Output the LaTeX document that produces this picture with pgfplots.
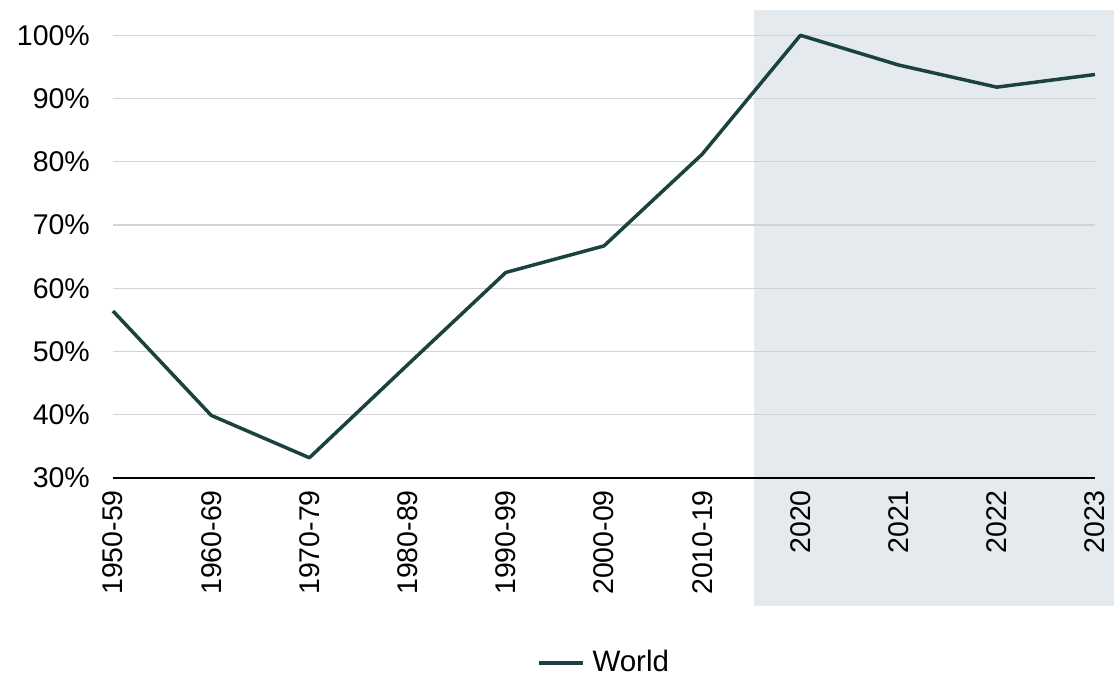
\documentclass[border=0pt]{standalone}
\usepackage{pgfplots}
\pgfplotsset{compat=1.18}
\usepackage{fontspec}
\setmainfont{Liberation Sans}
\definecolor{lineteal}{HTML}{1A433F}
\definecolor{shadebg}{HTML}{E5EAEE}
\definecolor{gridgray}{HTML}{D3D3D3}
\begin{document}
\fontsize{28.5bp}{32bp}\selectfont
\begin{tikzpicture}
\begin{axis}[
  at={(0,0)}, anchor=south west,
  scale only axis,
  width=982bp, height=468bp,
  set layers,
  clip=false,
  xmin=0, xmax=10,
  ymin=30, ymax=104,
  xtick={0,1,2,3,4,5,6,7,8,9,10},
  xticklabels={1950-59,1960-69,1970-79,1980-89,1990-99,2000-09,2010-19,2020,2021,2022,2023},
  ytick={30,40,50,60,70,80,90,100},
  yticklabels={30\%,40\%,50\%,60\%,70\%,80\%,90\%,100\%},
  major tick length=0pt,
  axis x line*=bottom,
  axis y line*=left,
  x axis line style={black, line width=2bp, -},
  y axis line style={draw=none},
  ymajorgrids,
  grid style={gridgray, line width=1.2bp},
  xticklabel style={rotate=90, anchor=east, inner sep=0pt, xshift=-12bp, font=\fontsize{28.5bp}{32bp}\selectfont},
  yticklabel style={anchor=east, inner sep=0pt, xshift=-23bp, font=\fontsize{28.5bp}{32bp}\selectfont},
  legend style={draw=none, fill=none, at={(0.5,-0.395)}, anchor=center, legend columns=-1,
    font=\fontsize{29.5bp}{32bp}\selectfont},
  legend image code/.code={\draw[#1] (0bp,0bp) -- (44bp,0bp); \path (50bp,0bp);},
]
\begin{pgfonlayer}{axis background}
\fill[shadebg] (axis cs:6.527,9.76) rectangle (axis cs:10.19,104);
\end{pgfonlayer}
\addplot[lineteal, line width=3.5bp, line join=round] coordinates {
  (0,56.4) (1,39.9) (2,33.2) (3,47.9) (4,62.5) (5,66.7) (6,81.2)
  (7,100.0) (8,95.3) (9,91.8) (10,93.8)
};
\addlegendentry{World}
\end{axis}
\path (-113bp,-199bp) rectangle (1001bp,478bp);
\end{tikzpicture}
\end{document}
